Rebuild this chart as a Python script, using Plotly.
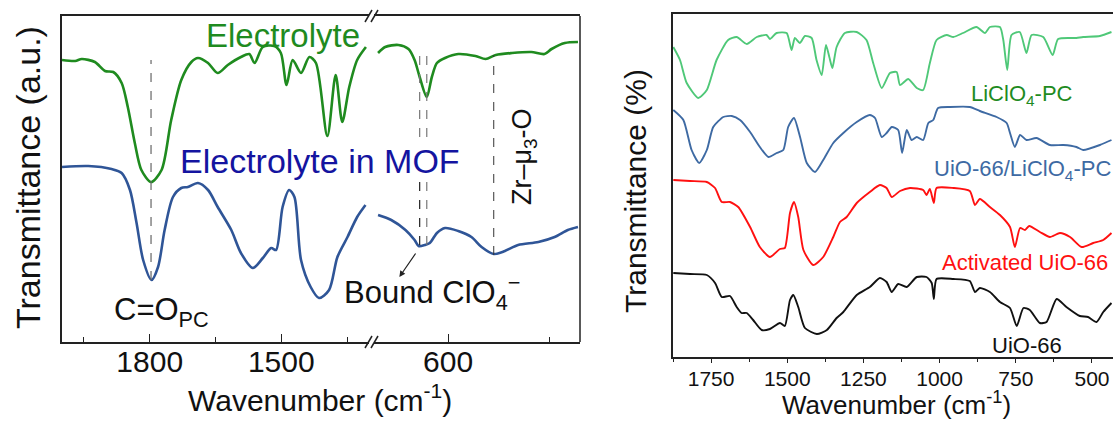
import plotly.graph_objects as go

# ---------------- Left panel data (Transmittance, a.u.) ----------------
elec_wn_hi = [2000, 1970, 1955, 1925, 1902, 1883, 1864, 1850, 1834, 1819, 1797, 1773, 1751, 1728,
              1705, 1690, 1667, 1645, 1622, 1592, 1573, 1561, 1542, 1516, 1501, 1488, 1474, 1455,
              1436, 1421, 1395, 1376, 1361, 1345, 1327, 1307]
elec_t_hi = [282, 281, 283, 280, 271, 270, 259, 235, 199, 172, 160, 172, 222, 262,
             280, 284, 279, 269, 277, 285, 288, 279, 295, 296, 289, 257, 282, 269,
             285, 279, 206, 267, 220, 255, 282, 295]
elec_wn_lo = [669, 662, 649, 639, 633, 628, 621, 616, 611, 603, 590, 573, 563, 553, 537, 518,
              505, 498, 485, 472]
elec_t_lo = [289, 295, 297, 293, 282, 265, 245, 265, 279, 284, 288, 286, 283, 287, 289, 290,
             288, 293, 299, 300]

mof_wn_hi = [2000, 1940, 1887, 1864, 1845, 1830, 1815, 1796, 1781, 1766, 1747, 1728, 1713, 1690,
             1667, 1645, 1614, 1592, 1565, 1542, 1523, 1512, 1497, 1482, 1470, 1455, 1433, 1414,
             1391, 1372, 1349, 1327, 1308]
mof_t_hi = [175, 176, 173, 169, 152, 119, 82, 62, 75, 112, 145, 154, 155, 159,
            152, 135, 112, 89, 74, 84, 94, 92, 135, 152, 145, 82, 55, 44,
            52, 85, 105, 125, 137]
mof_wn_lo = [669, 656, 642, 633, 629, 623, 618, 611, 603, 590, 577, 567, 555, 544, 531, 511,
             495, 482, 472]
mof_t_lo = [127, 122, 112, 102, 96, 97, 99, 109, 114, 111, 105, 95, 88, 91, 97, 100,
            105, 112, 115]

# reference (dashed) lines: wavenumber, y from, y to, colour
co_line = [1797, 62, 282]
clo4_lines = [[621, 205, 287, "#777"], [628, 205, 287, "#777"],
              [621, 97, 167, "#777"], [628, 97, 167, "#222"]]
zr_line = [555, 87, 287]
arrow_tail = [631, 90]
arrow_head = [648, 65]

left_ticks_hi = [1800, 1500]
left_ticks_lo = [600]

# ---------------- Right panel data (Transmittance, %) ----------------
li_wn = [1874, 1852, 1830, 1792, 1764, 1732, 1694, 1666, 1633, 1600, 1568, 1557, 1535, 1502,
         1486, 1475, 1459, 1442, 1420, 1404, 1387, 1373, 1362, 1352, 1338, 1311, 1272, 1240,
         1218, 1190, 1163, 1141, 1130, 1103, 1075, 1054, 1032, 1010, 977, 955, 923, 879, 851,
         835, 802, 791, 778, 764, 737, 715, 698, 660, 629, 611, 551, 529, 474, 436]
li_t = [310, 297, 274, 259, 267, 297, 317, 320, 313, 320, 322, 318, 324, 324,
        307, 319, 314, 321, 319, 297, 282, 312, 300, 289, 310, 324, 325, 317,
        294, 269, 284, 285, 272, 278, 269, 267, 294, 317, 322, 320, 324, 330, 324,
        330, 330, 317, 287, 322, 325, 304, 322, 320, 302, 318, 319, 320, 321, 325]

uio_li_wn = [1874, 1841, 1814, 1789, 1764, 1743, 1710, 1682, 1655, 1622, 1590, 1562, 1535, 1513,
             1497, 1478, 1458, 1436, 1409, 1382, 1349, 1316, 1272, 1229, 1212, 1190, 1174, 1157,
             1136, 1123, 1108, 1092, 1075, 1054, 1037, 1021, 1005, 966, 901, 868, 813, 780, 769,
             753, 736, 715, 682, 638, 594, 551, 529, 474, 436]
uio_li_t = [247, 237, 207, 194, 207, 230, 240, 241, 237, 225, 210, 200, 204, 207,
            230, 239, 220, 194, 185, 197, 214, 224, 235, 242, 239, 220, 224, 230,
            227, 204, 227, 217, 220, 217, 234, 237, 249, 250, 250, 246, 240, 234, 224,
            210, 222, 217, 219, 212, 212, 210, 207, 212, 217]

act_wn = [1874, 1819, 1764, 1737, 1715, 1688, 1661, 1622, 1590, 1557, 1524, 1508, 1491, 1478,
          1464, 1447, 1415, 1382, 1349, 1327, 1305, 1272, 1229, 1196, 1174, 1157, 1130, 1097,
          1054, 1043, 1032, 1019, 1010, 955, 901, 884, 868, 835, 802, 769, 753, 736, 720,
          706, 671, 638, 605, 572, 534, 496, 463, 436]
act_t = [177, 176, 175, 169, 155, 155, 150, 130, 110, 100, 108, 109, 144, 155,
         140, 107, 92, 100, 120, 135, 140, 154, 165, 172, 169, 160, 166, 169,
         167, 162, 168, 154, 169, 169, 166, 152, 158, 150, 142, 130, 110, 129, 127,
         131, 125, 120, 124, 120, 110, 114, 117, 124]

uio_wn = [1874, 1819, 1764, 1737, 1715, 1688, 1666, 1650, 1633, 1612, 1584, 1557, 1524, 1508,
          1491, 1480, 1464, 1442, 1403, 1370, 1338, 1316, 1272, 1229, 1196, 1174, 1157, 1136,
          1108, 1075, 1043, 1026, 1019, 1010, 955, 901, 884, 868, 835, 802, 769, 747, 725,
          704, 671, 649, 616, 584, 540, 513, 485, 463, 436]
uio_t = [84, 83, 82, 74, 60, 61, 50, 44, 44, 37, 27, 28, 34, 31,
         57, 62, 50, 29, 23, 27, 39, 45, 62, 70, 79, 75, 65, 73,
         70, 80, 80, 74, 58, 78, 78, 76, 65, 69, 65, 55, 49, 31, 49,
         47, 34, 35, 58, 50, 41, 40, 35, 45, 54]

right_ticks = [1750, 1500, 1250, 1000, 750, 500]

FONT = "Liberation Sans, Arial, sans-serif"
W, H = 1113, 421


def px(x):
    return x / W


def py(y):
    return 1 - y / H


fig = go.Figure()

# left panel curves
for xs, ys, ax, col in [(elec_wn_hi, elec_t_hi, "x", "#1f8b1f"), (elec_wn_lo, elec_t_lo, "x2", "#1f8b1f"),
                        (mof_wn_hi, mof_t_hi, "x", "#2f5597"), (mof_wn_lo, mof_t_lo, "x2", "#2f5597")]:
    fig.add_trace(go.Scatter(x=xs, y=ys, xaxis=ax, yaxis="y", mode="lines",
                             line=dict(color=col, width=2.6, shape="spline", smoothing=0.8)))

# right panel curves
for xs, ys, col in [(li_wn, li_t, "#4fc878"), (uio_li_wn, uio_li_t, "#3e6aa3"),
                    (act_wn, act_t, "#ff1010"), (uio_wn, uio_t, "#111111")]:
    fig.add_trace(go.Scatter(x=xs, y=ys, xaxis="x3", yaxis="y2", mode="lines",
                             line=dict(color=col, width=1.9, shape="spline", smoothing=0.6)))

shapes = []
# dashed reference lines
shapes.append(dict(type="line", xref="x", yref="y", x0=co_line[0], x1=co_line[0],
                   y0=co_line[1], y1=co_line[2], line=dict(color="#666", width=1.2, dash="dash")))
for wn, y0, y1, col in clo4_lines:
    shapes.append(dict(type="line", xref="x2", yref="y", x0=wn, x1=wn, y0=y0, y1=y1,
                       line=dict(color=col, width=1.2, dash="dash")))
shapes.append(dict(type="line", xref="x2", yref="y", x0=zr_line[0], x1=zr_line[0],
                   y0=zr_line[1], y1=zr_line[2], line=dict(color="#333", width=1.0, dash="dash")))
# right frame of left panel
shapes.append(dict(type="line", xref="paper", yref="paper", x0=px(580), x1=px(580),
                   y0=py(16), y1=py(342), line=dict(color="#222", width=1.5)))
# axis break marks
for yb in (16, 342):
    for dx in (0, 6):
        shapes.append(dict(type="line", xref="paper", yref="paper",
                           x0=px(365 + dx), x1=px(372 + dx), y0=py(yb + 6), y1=py(yb - 6),
                           line=dict(color="#222", width=1.5)))

annotations = [
    dict(text="Electrolyte", x=px(283), y=py(35), font=dict(size=33, color="#1f8b1f")),
    dict(text="Electrolyte in MOF", x=px(320), y=py(161), font=dict(size=34, color="#1414a0")),
    dict(text="C=O<sub>PC</sub>", x=px(112), y=py(312), xanchor="left",
         font=dict(size=31, color="#111")),
    dict(text="Bound ClO<sub>4</sub><sup>\u2212</sup>", x=px(342), y=py(292), xanchor="left",
         font=dict(size=31, color="#111")),
    dict(text="Zr\u2013\u03bc<sub>3</sub>-O", x=px(524), y=py(157), textangle=-90,
         font=dict(size=27, color="#111")),
    dict(text="Wavenumber (cm<sup>-1</sup>)", x=px(320), y=py(398),
         font=dict(size=30, color="#111")),
    dict(text="Transmittance (a.u.)", x=px(28), y=py(178), textangle=-90,
         font=dict(size=34, color="#111")),
    dict(text="LiClO<sub>4</sub>-PC", x=px(1022), y=py(95), font=dict(size=22, color="#1f8b1f")),
    dict(text="UiO-66/LiClO<sub>4</sub>-PC", x=px(932), y=py(170), xanchor="left",
         font=dict(size=22, color="#3e6aa3")),
    dict(text="Activated UiO-66", x=px(940), y=py(262), xanchor="left",
         font=dict(size=22, color="#ff1010")),
    dict(text="UiO-66", x=px(1027), y=py(345), font=dict(size=22, color="#111")),
    dict(text="Wavenumber (cm<sup>-1</sup>)", x=px(897), y=py(403),
         font=dict(size=26, color="#111")),
    dict(text="Transmittance (%)", x=px(636), y=py(191), textangle=-90,
         font=dict(size=30, color="#111")),
]
for a in annotations:
    a.setdefault("xref", "paper")
    a.setdefault("yref", "paper")
    a.setdefault("xanchor", "center")
    a.setdefault("yanchor", "middle")
    a["showarrow"] = False
annotations.append(dict(x=arrow_head[0], y=arrow_head[1], ax=arrow_tail[0], ay=arrow_tail[1],
                        xref="x2", yref="y", axref="x2", ayref="y", text="", showarrow=True,
                        arrowhead=2, arrowsize=1, arrowwidth=1.2, arrowcolor="#222"))

axis_common = dict(showgrid=False, zeroline=False, showline=True, linecolor="#222",
                   linewidth=1.5, tickcolor="#222", automargin=False)
left_tickfont = dict(family=FONT, size=30, color="#111")

fig.update_layout(
    width=W, height=H, margin=dict(l=0, r=0, t=0, b=0),
    paper_bgcolor="white", plot_bgcolor="rgba(0,0,0,0)", showlegend=False,
    font=dict(family=FONT, color="#111"),
    xaxis=dict(domain=[px(62), px(369)], range=[2000, 1300], anchor="y", mirror=True,
               tickmode="array", tickvals=left_ticks_hi, ticks="inside", ticklen=8, tickwidth=1.3,
               minor=dict(ticks="inside", ticklen=5, tickwidth=1.2, tickcolor="#222",
                          dtick=150, tick0=0, showgrid=False),
               ticklabelstandoff=-8, tickfont=left_tickfont, **axis_common),
    xaxis2=dict(domain=[px(374), px(580)], range=[673, 470], anchor="y", mirror=True,
                tickmode="array", tickvals=left_ticks_lo, ticks="inside", ticklen=8, tickwidth=1.3,
                minor=dict(ticks="inside", ticklen=5, tickwidth=1.2, tickcolor="#222",
                           dtick=100, tick0=0, showgrid=False),
                ticklabelstandoff=-8, tickfont=left_tickfont, **axis_common),
    yaxis=dict(domain=[py(342), py(16)], range=[0, 326], anchor="x", showticklabels=False,
               ticks="", showgrid=False, zeroline=False, showline=True, linecolor="#222",
               linewidth=1.5, automargin=False),
    xaxis3=dict(domain=[px(673), 1.0], range=[1875, 431], anchor="y2", mirror=True,
                tickmode="array", tickvals=right_ticks, ticks="outside", ticklen=4, tickwidth=1.2,
                minor=dict(ticks="outside", ticklen=3, tickwidth=1.1, tickcolor="#222",
                           dtick=125, tick0=0, showgrid=False),
                ticklabelstandoff=-2, tickfont=dict(family=FONT, size=21, color="#111"),
                **axis_common),
    yaxis2=dict(domain=[py(357), py(14)], range=[0, 343], anchor="x3", showticklabels=False,
                ticks="", showgrid=False, zeroline=False, showline=True, linecolor="#222",
                linewidth=1.5, automargin=False),
    shapes=shapes,
    annotations=annotations,
)
for a in fig.layout.annotations:
    if a.font is not None:
        a.font.family = FONT

fig.write_html("out.html")
